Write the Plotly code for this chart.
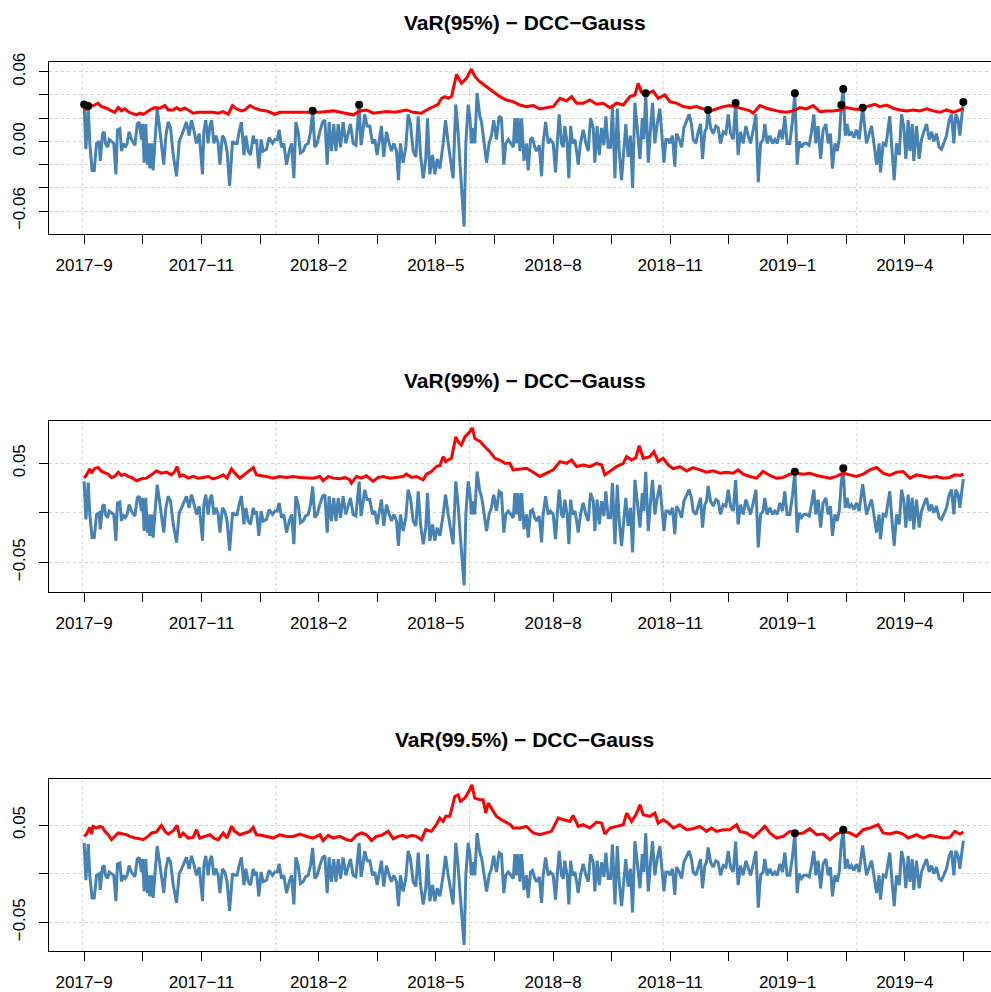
import numpy as np
import plotly.graph_objects as go

# ---------------- data ----------------
# observation number (trading day index) and portfolio loss series
ret_obs = [1.0, 1.9, 3.1, 3.9, 5.1, 6.2, 7.4, 8.8, 9.3, 10.5, 11.3, 12.0, 13.1, 13.9, 15.1, 16.3, 17.4, 18.2, 19.4, 20.3,
           21.1, 22.2, 23.2, 24.2, 25.4, 27.2, 28.4, 29.4, 30.6, 31.1, 32.0, 32.8, 33.7, 34.2, 34.9, 35.8, 36.6, 37.5, 38.7, 39.7,
           40.9, 42.1, 43.2, 44.4, 45.6, 47.0, 48.7, 50.1, 51.3, 52.5, 53.8, 55.2, 56.4, 57.6, 59.0, 60.4, 62.1, 62.8, 63.8, 65.0,
           65.9, 66.8, 68.0, 69.0, 70.2, 71.1, 72.4, 73.6, 74.8, 76.1, 77.6, 78.8, 80.0, 81.0, 82.2, 83.5, 84.5, 85.7, 86.9, 88.3,
           89.1, 90.0, 91.2, 92.4, 93.4, 95.2, 96.5, 98.3, 99.5, 100.7, 101.7, 102.9, 104.1, 105.5, 106.9, 108.1, 109.3, 110.3, 111.5, 112.7,
           114.1, 115.3, 116.7, 117.9, 119.0, 120.1, 121.3, 122.7, 124.1, 125.3, 126.5, 127.5, 128.7, 129.9, 131.0, 132.2, 133.4, 134.7, 136.1, 137.3,
           138.5, 139.9, 141.3, 143.0, 144.0, 145.0, 145.9, 147.1, 148.5, 149.9, 151.1, 152.3, 153.3, 154.5, 155.7, 157.1, 158.5, 159.7, 160.9, 162.3,
           163.3, 164.3, 165.7, 167.1, 168.3, 169.5, 170.9, 172.3, 173.5, 174.7, 176.1, 177.4, 178.3, 179.5, 180.9, 182.1, 183.3, 184.7, 186.4, 187.6,
           189.0, 190.2, 191.5, 192.9, 194.1, 195.3, 196.7, 197.2, 198.1, 199.3, 200.2, 201.0, 201.9, 202.7, 203.9, 205.3, 206.2, 207.4, 208.8, 210.1,
           211.3, 212.5, 213.9, 215.3, 216.5, 217.7, 218.7, 220.0,
           222.6, 223.4, 224.3, 225.1, 226.0, 226.9, 228.1, 229.4, 230.3, 231.5, 232.5, 233.7, 234.6, 236.0, 237.2, 238.0, 239.3, 240.6, 241.8, 243.2,
           244.4, 245.3, 246.3, 247.5, 248.4, 249.2, 250.4, 251.3, 252.2, 253.2, 254.4, 255.3, 256.1, 257.3, 258.7, 260.1, 261.3, 262.5, 263.9, 264.7,
           265.9, 267.0, 268.2, 269.4, 270.4, 271.6, 272.8, 273.8, 275.1, 276.3, 277.3, 278.5, 279.7, 280.7, 281.9, 283.1, 284.2, 285.4, 286.6, 288.0,
           289.2, 290.0, 291.0, 292.3, 293.5, 294.5, 295.7, 296.9, 298.3, 299.1, 300.4, 301.4, 302.6, 303.5, 304.8, 306.0, 306.9, 308.3, 309.5, 310.7,
           312.1, 313.4, 314.6, 315.5, 316.9, 318.1, 319.3, 320.3, 321.5, 322.4, 323.2, 324.5, 325.8, 327.2, 328.4, 329.6, 331.0, 332.4, 333.6, 334.8,
           336.2, 337.4, 338.7, 339.9, 341.3, 342.7, 343.9, 345.1, 346.5, 347.9, 349.1, 350.3, 351.6, 352.5, 353.7, 355.1, 356.5, 357.7, 358.9, 360.3,
           361.6, 362.8, 364.0, 365.4, 366.8, 368.0, 369.2, 370.2, 371.4, 372.6, 374.0, 375.4, 376.6, 377.8, 378.8, 380.0, 381.3, 382.6, 384.0, 385.2,
           386.4, 387.4, 388.7, 389.9, 390.9, 392.0, 393.0, 394.0, 395.0, 396.0, 397.2, 398.5, 399.8, 401.2, 403.0, 404.0, 405.0, 406.4, 407.6, 408.8,
           410.2, 411.5, 412.2, 413.6, 415.0, 416.2, 417.0, 418.2, 419.3, 420.5, 421.9, 423.1, 424.3, 425.3, 426.5, 427.4, 428.6, 429.4, 430.8, 432.2,
           433.4, 434.6, 436.0, 437.4, 438.6, 439.8, 441.1, 442.5, 443.7, 444.9, 446.3, 447.7, 448.9, 450.1, 451.1, 452.3, 453.2, 454.0, 455.0]
ret_val = [0.0317, -0.0067, 0.0305, -0.0017, -0.0250, -0.0250, -0.0017, 0.0000, -0.0167, 0.0067, 0.0083, -0.0017, -0.0050, 0.0017, 0.0000, -0.0017, -0.0283, 0.0100, 0.0110, -0.0083,
           -0.0017, -0.0050, -0.0017, 0.0083, 0.0017, -0.0033, 0.0150, 0.0167, 0.0017, 0.0150, -0.0183, 0.0150, -0.0200, -0.0017, -0.0233, -0.0017, -0.0250, -0.0017, 0.0283, 0.0150,
           -0.0017, -0.0200, 0.0050, 0.0167, 0.0117, -0.0117, -0.0300, 0.0000, 0.0050, 0.0100, 0.0167, 0.0050, 0.0183, 0.0100, -0.0017, 0.0067, -0.0283, 0.0083, 0.0183, -0.0017,
           0.0133, 0.0183, -0.0017, 0.0050, -0.0017, -0.0200, 0.0050, 0.0017, -0.0083, -0.0383, 0.0000, -0.0017, -0.0017, 0.0083, 0.0167, -0.0117, 0.0050, -0.0083, -0.0117, 0.0050,
           -0.0017, 0.0017, -0.0233, 0.0017, -0.0083, -0.0067, 0.0033, -0.0017, 0.0017, 0.0017, 0.0100, -0.0050, -0.0017, -0.0200, -0.0083, -0.0017, -0.0317, 0.0167, 0.0083, -0.0100,
           -0.0083, -0.0033, -0.0017, 0.0083, 0.0265, -0.0050, -0.0017, 0.0083, 0.0167, 0.0183, -0.0200, 0.0167, -0.0083, 0.0150, -0.0083, 0.0150, -0.0050, 0.0167, -0.0017, 0.0067,
           0.0150, -0.0017, -0.0033, 0.0315, -0.0033, 0.0100, 0.0233, 0.0133, 0.0133, -0.0017, 0.0017, -0.0117, -0.0017, 0.0133, -0.0133, 0.0083, -0.0017, -0.0083, -0.0017, -0.0083,
           -0.0333, -0.0017, -0.0183, -0.0050, 0.0233, 0.0150, -0.0083, -0.0133, 0.0217, -0.0117, -0.0317, -0.0150, 0.0200, -0.0283, -0.0117, -0.0283, -0.0150, -0.0233, -0.0017, 0.0183,
           -0.0017, -0.0150, -0.0317, 0.0317, 0.0083, -0.0250, -0.0550, -0.0733, -0.0017, 0.0317, 0.0200, -0.0017, 0.0117, -0.0017, 0.0417, 0.0217, 0.0167, -0.0017, -0.0183, -0.0017,
           0.0050, 0.0183, 0.0017, 0.0217, 0.0200, -0.0200, -0.0017, 0.0017,
           -0.0050, 0.0200, -0.0017, 0.0200, -0.0083, 0.0200, -0.0167, -0.0017, -0.0250, 0.0017, 0.0033, -0.0050, -0.0083, -0.0033, -0.0300, -0.0017, 0.0167, -0.0017, 0.0017, -0.0017,
           -0.0267, -0.0017, 0.0233, -0.0017, -0.0050, 0.0133, -0.0017, -0.0317, 0.0133, -0.0017, 0.0017, -0.0083, -0.0200, -0.0017, 0.0100, -0.0017, -0.0083, 0.0200, 0.0117, -0.0183,
           0.0133, -0.0117, 0.0117, -0.0033, 0.0217, -0.0050, -0.0050, 0.0300, -0.0317, 0.0283, -0.0083, -0.0333, -0.0033, 0.0150, -0.0133, 0.0050, -0.0400, 0.0333, 0.0117, -0.0150,
           0.0200, 0.0017, 0.0415, -0.0183, 0.0117, 0.0333, -0.0017, 0.0150, 0.0283, 0.0083, -0.0183, 0.0017, 0.0017, -0.0017, 0.0050, -0.0217, 0.0067, 0.0017, -0.0050, 0.0117,
           0.0183, 0.0233, 0.0150, 0.0017, -0.0017, 0.0083, 0.0150, -0.0150, 0.0083, 0.0117, 0.0270, 0.0117, 0.0067, 0.0133, 0.0117, -0.0017, 0.0083, 0.0067, 0.0233, 0.0067,
           0.0017, 0.0330, -0.0117, 0.0083, -0.0017, 0.0133, 0.0050, -0.0017, 0.0100, 0.0233, -0.0350, -0.0017, 0.0017, 0.0150, -0.0017, 0.0050, -0.0017, 0.0017, -0.0017, 0.0100,
           0.0017, 0.0217, -0.0017, -0.0017, 0.0183, 0.0415, -0.0200, 0.0000, -0.0050, -0.0017, -0.0017, -0.0033, 0.0083, 0.0233, -0.0017, 0.0133, -0.0150, 0.0100, 0.0150, -0.0017,
           0.0067, -0.0233, -0.0017, -0.0083, 0.0017, 0.0314, 0.0451, 0.0050, 0.0150, 0.0050, 0.0083, 0.0033, 0.0100, 0.0017, 0.0290, 0.0117, -0.0017, 0.0067, 0.0133, -0.0017,
           -0.0200, -0.0017, -0.0267, -0.0017, -0.0033, 0.0117, 0.0217, -0.0083, -0.0333, -0.0017, -0.0117, 0.0233, 0.0117, -0.0150, 0.0183, -0.0083, 0.0150, -0.0167, 0.0133, -0.0150,
           0.0017, 0.0083, 0.0150, 0.0017, 0.0083, 0.0000, 0.0067, -0.0050, -0.0067, -0.0017, 0.0050, 0.0183, 0.0233, -0.0017, 0.0233, 0.0183, 0.0050, 0.0183, 0.0340]

# VaR(95%) DCC-Gauss
var95_obs = [1.0, 3.9, 5.7, 8.2, 10.0, 12.5, 15.1, 16.8, 18.6, 20.3, 22.0, 23.7, 25.4, 28.0, 29.8, 31.5, 33.2, 34.9, 37.5, 40.1,
             42.7, 44.4, 47.0, 48.7, 50.4, 53.0, 54.7, 57.3, 59.9, 62.5, 65.0, 67.6, 70.2, 72.8, 75.4, 77.6, 79.7, 82.3, 84.0, 86.6,
             89.1, 91.7, 95.2, 99.5, 102.0, 105.5, 109.0, 115.8, 122.7, 129.6, 136.5, 139.9, 143.4, 146.8, 150.3, 153.7, 157.1, 161.4, 165.7, 167.5,
             170.9, 175.2, 177.8, 181.2, 183.8, 185.5, 187.3, 189.0, 190.7, 193.3, 195.9, 198.4, 201.0, 202.8, 205.3, 208.8, 212.2, 215.7, 219.1, 222.5,
             226.0, 229.4, 232.9, 236.3, 239.8, 243.2, 246.7, 250.1, 252.7, 255.3, 258.7, 262.1, 265.6, 269.0, 272.5, 275.9, 279.4, 282.8, 285.4, 287.1,
             288.8, 291.4, 294.8, 297.4, 300.9, 303.5, 306.9, 310.3, 313.8, 317.2, 320.7, 324.1, 327.5, 331.0, 334.4, 337.9, 341.3, 344.8, 346.5, 349.9,
             353.4, 356.8, 360.3, 363.7, 367.1, 370.6, 374.0, 377.5, 380.9, 384.4, 387.8, 391.2, 394.7, 398.1, 401.6, 405.0, 409.3, 411.9, 415.3, 418.8,
             422.2, 425.7, 429.1, 432.5, 436.0, 439.4, 442.9, 446.3, 449.8, 453.2, 455.0]
var95_val = [0.0271, 0.0300, 0.0309, 0.0329, 0.0300, 0.0286, 0.0263, 0.0251, 0.0291, 0.0263, 0.0280, 0.0257, 0.0243, 0.0229, 0.0243, 0.0234, 0.0251, 0.0271, 0.0291, 0.0286,
             0.0309, 0.0271, 0.0271, 0.0291, 0.0271, 0.0286, 0.0271, 0.0243, 0.0251, 0.0251, 0.0257, 0.0251, 0.0243, 0.0257, 0.0234, 0.0309, 0.0280, 0.0263, 0.0271, 0.0309,
             0.0286, 0.0271, 0.0263, 0.0234, 0.0251, 0.0251, 0.0251, 0.0257, 0.0251, 0.0263, 0.0243, 0.0229, 0.0263, 0.0271, 0.0243, 0.0251, 0.0257, 0.0251, 0.0263, 0.0271,
             0.0251, 0.0243, 0.0271, 0.0300, 0.0320, 0.0371, 0.0386, 0.0371, 0.0386, 0.0577, 0.0500, 0.0543, 0.0623, 0.0557, 0.0514, 0.0471, 0.0429, 0.0386, 0.0357, 0.0343,
             0.0314, 0.0300, 0.0309, 0.0280, 0.0291, 0.0300, 0.0371, 0.0349, 0.0386, 0.0329, 0.0329, 0.0357, 0.0320, 0.0329, 0.0291, 0.0329, 0.0314, 0.0386, 0.0400, 0.0500,
             0.0423, 0.0406, 0.0434, 0.0371, 0.0400, 0.0343, 0.0329, 0.0300, 0.0291, 0.0300, 0.0280, 0.0260, 0.0280, 0.0300, 0.0309, 0.0291, 0.0280, 0.0263, 0.0243, 0.0309,
             0.0286, 0.0271, 0.0257, 0.0251, 0.0263, 0.0291, 0.0280, 0.0309, 0.0257, 0.0263, 0.0263, 0.0271, 0.0291, 0.0280, 0.0275, 0.0300, 0.0320, 0.0300, 0.0314, 0.0286,
             0.0271, 0.0263, 0.0271, 0.0263, 0.0280, 0.0263, 0.0251, 0.0271, 0.0251, 0.0271, 0.0286]

# VaR(99%) DCC-Gauss
var99_obs = [1.0, 2.2, 3.9, 4.8, 6.5, 8.2, 10.0, 11.7, 13.4, 15.1, 16.8, 18.6, 20.3, 22.0, 23.7, 25.4, 28.0, 30.6, 33.2, 35.8,
             38.3, 40.9, 43.5, 46.1, 47.8, 49.0, 50.4, 52.1, 54.7, 57.3, 59.9, 62.4, 65.0, 67.6, 70.2, 72.8, 74.8, 77.1, 78.8, 81.4,
             84.0, 86.5, 88.3, 90.0, 92.6, 95.1, 98.6, 102.0, 105.5, 108.9, 112.4, 115.8, 119.2, 122.7, 124.4, 127.0, 129.6, 133.0, 135.6, 138.2,
             139.0, 141.6, 144.2, 146.8, 150.2, 152.8, 155.4, 158.8, 162.3, 165.7, 167.4, 170.0, 172.6, 176.0, 177.8, 180.3, 182.9, 184.7, 186.4, 187.7,
             188.9, 190.7, 192.9, 194.1, 195.8, 197.6, 200.1, 201.5, 202.7, 205.3, 207.9, 210.5, 213.1, 215.6, 218.2, 220.8, 222.5, 226.0, 229.4, 232.9,
             236.3, 239.8, 243.2, 246.7, 250.1, 252.7, 255.3, 258.7, 262.1, 265.6, 268.2, 269.9, 272.5, 275.9, 279.4, 281.1, 283.7, 285.9, 287.6, 289.7,
             293.1, 295.2, 297.4, 300.0, 302.6, 305.2, 308.6, 312.1, 315.5, 318.9, 322.4, 325.8, 329.3, 332.7, 336.1, 338.7, 341.3, 344.8, 348.2, 351.6,
             355.1, 358.5, 361.9, 365.4, 368.9, 372.3, 375.7, 379.2, 382.6, 386.1, 389.5, 392.9, 396.4, 399.8, 403.3, 406.7, 410.2, 413.6, 417.0, 420.5,
             423.9, 427.4, 430.8, 434.3, 437.7, 441.1, 444.6, 448.0, 450.6, 453.2, 455.0]
var99_val = [0.0350, 0.0383, 0.0443, 0.0400, 0.0450, 0.0457, 0.0417, 0.0400, 0.0390, 0.0357, 0.0367, 0.0410, 0.0377, 0.0390, 0.0367, 0.0357, 0.0323, 0.0343, 0.0350, 0.0383,
             0.0423, 0.0400, 0.0410, 0.0383, 0.0417, 0.0467, 0.0367, 0.0383, 0.0350, 0.0367, 0.0350, 0.0357, 0.0367, 0.0343, 0.0357, 0.0383, 0.0350, 0.0443, 0.0400, 0.0350,
             0.0390, 0.0423, 0.0457, 0.0383, 0.0377, 0.0367, 0.0350, 0.0367, 0.0357, 0.0367, 0.0357, 0.0357, 0.0350, 0.0367, 0.0323, 0.0367, 0.0350, 0.0343, 0.0357, 0.0333,
             0.0300, 0.0367, 0.0350, 0.0373, 0.0317, 0.0357, 0.0367, 0.0350, 0.0357, 0.0367, 0.0390, 0.0357, 0.0367, 0.0333, 0.0390, 0.0417, 0.0467, 0.0477, 0.0567, 0.0517,
             0.0533, 0.0550, 0.0767, 0.0717, 0.0683, 0.0767, 0.0817, 0.0857, 0.0750, 0.0723, 0.0667, 0.0617, 0.0550, 0.0533, 0.0500, 0.0500, 0.0433, 0.0443, 0.0450, 0.0410,
             0.0367, 0.0400, 0.0433, 0.0517, 0.0500, 0.0533, 0.0467, 0.0483, 0.0467, 0.0500, 0.0483, 0.0383, 0.0417, 0.0467, 0.0500, 0.0567, 0.0533, 0.0557, 0.0677, 0.0550,
             0.0567, 0.0617, 0.0517, 0.0550, 0.0483, 0.0443, 0.0467, 0.0423, 0.0457, 0.0433, 0.0410, 0.0423, 0.0400, 0.0410, 0.0400, 0.0433, 0.0390, 0.0367, 0.0350, 0.0417,
             0.0377, 0.0350, 0.0357, 0.0390, 0.0400, 0.0390, 0.0400, 0.0377, 0.0367, 0.0350, 0.0367, 0.0400, 0.0383, 0.0367, 0.0390, 0.0433, 0.0457, 0.0400, 0.0377, 0.0410,
             0.0417, 0.0350, 0.0383, 0.0367, 0.0357, 0.0367, 0.0350, 0.0357, 0.0383, 0.0377, 0.0390]

# VaR(99.5%) DCC-Gauss
var995_obs = [1.0, 2.2, 3.9, 4.8, 5.6, 7.4, 9.1, 10.5, 11.7, 13.4, 15.1, 16.8, 18.6, 21.1, 22.9, 24.6, 27.2, 29.7, 31.5, 34.0,
              35.8, 38.3, 40.9, 42.7, 44.4, 47.0, 49.0, 50.4, 52.1, 54.7, 57.3, 59.0, 60.7, 63.3, 65.9, 68.5, 70.2, 72.8, 74.8, 77.1,
              78.8, 81.4, 84.0, 86.5, 88.3, 90.0, 92.6, 95.1, 98.6, 102.0, 105.5, 108.9, 112.4, 115.8, 119.2, 122.7, 124.4, 127.0, 129.6, 133.0,
              136.5, 139.0, 141.6, 144.2, 146.8, 149.4, 151.9, 154.5, 158.0, 160.6, 163.1, 165.7, 167.4, 170.0, 172.6, 175.2, 177.4, 180.3, 182.9, 184.7,
              186.4, 187.7, 189.8, 192.4, 194.1, 195.3, 197.6, 200.1, 201.2, 202.7, 205.3, 207.0, 208.4, 209.6, 211.3, 213.9, 216.5, 219.1, 221.1, 222.5,
              226.0, 229.4, 232.9, 236.3, 239.8, 242.3, 245.8, 249.2, 251.8, 253.5, 256.1, 258.7, 262.1, 265.6, 268.2, 269.9, 272.5, 275.9, 279.4, 281.1,
              283.7, 285.9, 288.0, 289.7, 293.1, 295.7, 297.4, 300.0, 302.6, 305.2, 308.6, 312.1, 315.5, 318.9, 322.4, 324.9, 327.5, 331.0, 334.4, 337.9,
              339.6, 343.0, 346.5, 349.1, 352.5, 355.1, 358.5, 362.0, 365.4, 368.9, 372.3, 375.7, 379.2, 382.6, 386.1, 389.5, 392.9, 396.4, 399.8, 403.3,
              406.7, 411.0, 413.6, 417.0, 420.5, 423.9, 426.5, 430.8, 434.3, 437.7, 441.1, 444.6, 448.0, 450.6, 453.2, 455.0]
var995_val = [0.0383, 0.0407, 0.0476, 0.0407, 0.0486, 0.0469, 0.0486, 0.0476, 0.0435, 0.0400, 0.0349, 0.0383, 0.0418, 0.0407, 0.0400, 0.0383, 0.0366, 0.0359, 0.0349, 0.0383,
              0.0418, 0.0428, 0.0496, 0.0435, 0.0407, 0.0441, 0.0496, 0.0373, 0.0418, 0.0366, 0.0373, 0.0452, 0.0366, 0.0383, 0.0400, 0.0359, 0.0349, 0.0418, 0.0366, 0.0486,
              0.0435, 0.0400, 0.0418, 0.0435, 0.0476, 0.0400, 0.0394, 0.0383, 0.0366, 0.0400, 0.0383, 0.0383, 0.0407, 0.0383, 0.0366, 0.0400, 0.0339, 0.0394, 0.0366, 0.0383,
              0.0349, 0.0339, 0.0394, 0.0418, 0.0400, 0.0339, 0.0383, 0.0394, 0.0435, 0.0359, 0.0383, 0.0394, 0.0373, 0.0394, 0.0383, 0.0349, 0.0452, 0.0435, 0.0503, 0.0572,
              0.0537, 0.0589, 0.0589, 0.0794, 0.0811, 0.0743, 0.0777, 0.0862, 0.0914, 0.0777, 0.0760, 0.0760, 0.0623, 0.0726, 0.0674, 0.0589, 0.0554, 0.0520, 0.0503, 0.0469,
              0.0469, 0.0486, 0.0418, 0.0400, 0.0418, 0.0435, 0.0572, 0.0554, 0.0537, 0.0599, 0.0486, 0.0503, 0.0469, 0.0530, 0.0520, 0.0407, 0.0469, 0.0486, 0.0503, 0.0623,
              0.0537, 0.0606, 0.0708, 0.0606, 0.0589, 0.0623, 0.0520, 0.0554, 0.0520, 0.0469, 0.0503, 0.0452, 0.0462, 0.0486, 0.0435, 0.0469, 0.0435, 0.0452, 0.0452, 0.0503,
              0.0435, 0.0418, 0.0373, 0.0418, 0.0486, 0.0418, 0.0366, 0.0383, 0.0435, 0.0407, 0.0418, 0.0462, 0.0400, 0.0407, 0.0349, 0.0407, 0.0435, 0.0418, 0.0383, 0.0452,
              0.0469, 0.0503, 0.0418, 0.0407, 0.0428, 0.0407, 0.0366, 0.0400, 0.0366, 0.0394, 0.0383, 0.0366, 0.0373, 0.0435, 0.0407, 0.0428]

# observations where the loss exceeds the VaR
exc95_obs = [1.0, 3.1, 119.0, 143.0, 291.0, 323.2, 337.4, 368.0, 392.0, 393.0, 403.0, 455.0]
exc99_obs = [368.0, 393.0]
exc995_obs = [368.0, 393.0]

titles = ["VaR(95%) \u2212 DCC\u2212Gauss", "VaR(99%) \u2212 DCC\u2212Gauss", "VaR(99.5%) \u2212 DCC\u2212Gauss"]
n_obs = 455
xtick_text = ["2017\u22129", "", "2017\u221211", "", "2018\u22122", "", "2018\u22125", "", "2018\u22128", "",
              "2018\u221211", "", "2019\u22121", "", "2019\u22124", ""]
xgrid_obs = [0, 100, 200, 300, 400]

y_ticks = [[-0.06, -0.04, -0.02, 0.0, 0.02, 0.04, 0.06], [-0.05, 0.0, 0.05], [-0.05, 0.0, 0.05]]
y_text = [["\u22120.06", "", "", "0.00", "", "", "0.06"], ["\u22120.05", "", "0.05"], ["\u22120.05", "", "0.05"]]
y_ranges = [[-0.0797, 0.0684], [-0.0800, 0.0927], [-0.0795, 0.0973]]

# ---------------- figure ----------------
W, H = 991, 992
ML, MR, MT, MB = 49, 0, 62, 41
plot_h = H - MT - MB
box_px = [(62, 234), (421, 592), (779, 951)]
title_px = [22.5, 380.5, 739.5]
domains = [[(H - MB - b) / plot_h, (H - MB - t) / plot_h] for (t, b) in box_px]

FONT = "Liberation Sans, Arial, Helvetica, sans-serif"
BLUE = "#4682B4"
RED = "#FF0000"

ret_map = dict(zip(ret_obs, ret_val))
var_sets = [(var95_obs, var95_val, exc95_obs), (var99_obs, var99_val, exc99_obs), (var995_obs, var995_val, exc995_obs)]

xtick_vals = list(np.linspace(1, n_obs, 16))
x_range = [1 - 0.04 * (n_obs - 1), 1 - 0.04 * (n_obs - 1) + (W - ML - MR) / 1.9365]

fig = go.Figure()
layout = dict(width=W, height=H, margin=dict(l=ML, r=MR, t=MT, b=MB),
              paper_bgcolor="white", plot_bgcolor="white", showlegend=False,
              font=dict(family=FONT, size=17, color="black"))
shapes, annotations = [], []

for i, (vo, vv, eo) in enumerate(var_sets):
    k = "" if i == 0 else str(i + 1)
    xa, ya = "x" + k, "y" + k
    fig.add_trace(go.Scatter(x=ret_obs, y=ret_val, mode="lines", line=dict(color=BLUE, width=3),
                             xaxis=xa, yaxis=ya, hoverinfo="skip"))
    fig.add_trace(go.Scatter(x=vo, y=vv, mode="lines", line=dict(color=RED, width=3),
                             xaxis=xa, yaxis=ya, hoverinfo="skip"))
    fig.add_trace(go.Scatter(x=eo, y=[ret_map[o] for o in eo], mode="markers",
                             marker=dict(color="black", size=8), xaxis=xa, yaxis=ya, hoverinfo="skip"))
    layout["xaxis" + k] = dict(domain=[0, 1], anchor=ya, range=x_range, tickmode="array",
                               tickvals=xtick_vals, ticktext=xtick_text, ticks="outside", ticklen=9,
                               tickwidth=1.3, tickcolor="black", showline=True, mirror=True,
                               linecolor="black", linewidth=1.3, showgrid=False, zeroline=False,
                               tickfont=dict(family=FONT, size=17, color="black"), automargin=False,
                               ticklabelstandoff=6)
    layout["yaxis" + k] = dict(domain=domains[i], anchor=xa, range=y_ranges[i], tickmode="array",
                               tickvals=y_ticks[i], ticktext=y_text[i], ticks="outside", ticklen=9,
                               tickwidth=1.3, tickcolor="black", showline=True, mirror=False,
                               linecolor="black", linewidth=1.3, showgrid=True, gridcolor="#D3D3D3",
                               griddash="dot", gridwidth=1, zeroline=False, tickangle=-90,
                               tickfont=dict(family=FONT, size=17, color="black"), automargin=False,
                               ticklabelstandoff=7)
    for g in xgrid_obs:
        shapes.append(dict(type="line", xref=xa, yref=ya + " domain", x0=g, x1=g, y0=0, y1=1,
                           line=dict(color="#D3D3D3", width=1, dash="dot"), layer="below"))
    annotations.append(dict(text="<b>" + titles[i] + "</b>", xref="paper", yref="paper",
                            x=(524.5 - ML) / (W - ML - MR), y=(H - MB - title_px[i]) / plot_h,
                            xanchor="center", yanchor="middle", showarrow=False,
                            font=dict(family=FONT, size=21, color="black")))

layout["shapes"] = shapes
layout["annotations"] = annotations
fig.update_layout(**layout)
fig.write_html("out.html", config={"displayModeBar": False},
               post_script="document.body.style.margin='0px';document.body.style.overflow='hidden';")
